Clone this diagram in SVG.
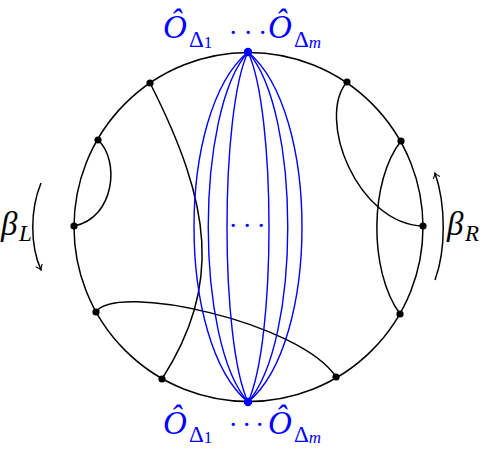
<svg xmlns="http://www.w3.org/2000/svg" width="488" height="454" viewBox="0 0 488 454">
<style>
.k{fill:none;stroke:#000;stroke-width:1.5}
.b{fill:none;stroke:#0000ff;stroke-width:1.4}
.dk{fill:#000}
.db{fill:#0000ff}
.t{font-family:"Liberation Serif","DejaVu Serif",serif;font-style:italic;fill:#000}
.tb{font-family:"Liberation Serif","DejaVu Serif",serif;fill:#0000ff}
</style>
<defs>
<marker id="ah" markerWidth="10" markerHeight="10" refX="0" refY="0" viewBox="-6 -5 8 10" orient="auto" markerUnits="userSpaceOnUse">
<path d="M-5,-3.5 Q-2,-0.8 0,0 Q-2,0.8 -5,3.5" fill="none" stroke="#000" stroke-width="1.1"/>
</marker>
</defs>
<g id="circle"><circle cx="248.5" cy="227" r="174.5" class="k"/></g>
<g id="connectors">
<path class="k" d="M150,83 C212,205 222,285 162,379"/>
<path class="k" d="M98,140 C120,160 115,218 74,226"/>
<path class="k" d="M347,82 C316,118 357,224 423,226"/>
<path class="k" d="M401,141 C370,180 368,270 400,314"/>
<path class="k" d="M96,312 C115,282 300,322 336,377"/>
<path class="b" d="M248,52 C176,112 176,342 248,402"/>
<path class="b" d="M248,52 C320,112 320,342 248,402"/>
<path class="b" d="M248,52 C195,112 195,342 248,402"/>
<path class="b" d="M248,52 C301,112 301,342 248,402"/>
<path class="b" d="M248,52 C220,112 220,342 248,402"/>
<path class="b" d="M248,52 C276,112 276,342 248,402"/>
<path class="k" d="M41,183 C30,210 30,245 41,270" marker-end="url(#ah)"/>
<path class="k" d="M435,280 C446,250 446,205 435,173" marker-end="url(#ah)"/>
</g>
<g id="points">
<circle cx="150" cy="83" r="3.6" class="dk"/>
<circle cx="98" cy="140" r="3.6" class="dk"/>
<circle cx="74" cy="226" r="3.6" class="dk"/>
<circle cx="96" cy="312" r="3.6" class="dk"/>
<circle cx="162" cy="379" r="3.6" class="dk"/>
<circle cx="336" cy="377" r="3.6" class="dk"/>
<circle cx="400" cy="314" r="3.6" class="dk"/>
<circle cx="423" cy="226" r="3.6" class="dk"/>
<circle cx="401" cy="141" r="3.6" class="dk"/>
<circle cx="347" cy="82" r="3.6" class="dk"/>
<circle cx="248" cy="52" r="4.2" class="db"/>
<circle cx="248" cy="402" r="4.2" class="db"/>
</g>
<g id="label-top" class="tb">
<text x="163" y="38" font-size="33" font-style="italic">Ô</text>
<text x="189" y="47" font-size="23">Δ<tspan font-size="17" dy="1">1</tspan></text>
<text x="228.5" y="42" font-size="28">·</text>
<text x="243.5" y="42" font-size="28">·</text>
<text x="258" y="42" font-size="28">·</text>
<text x="268" y="38" font-size="33" font-style="italic">Ô</text>
<text x="294" y="47" font-size="23">Δ<tspan font-size="17" font-style="italic" dy="1">m</tspan></text>
</g>
<g id="label-bottom" class="tb">
<text x="163" y="434" font-size="33" font-style="italic">Ô</text>
<text x="189" y="442" font-size="23">Δ<tspan font-size="17" dy="1">1</tspan></text>
<text x="228.5" y="434" font-size="28">·</text>
<text x="242" y="434" font-size="28">·</text>
<text x="255" y="434" font-size="28">·</text>
<text x="268" y="434" font-size="33" font-style="italic">Ô</text>
<text x="294" y="442" font-size="23">Δ<tspan font-size="17" font-style="italic" dy="1">m</tspan></text>
</g>
<g id="dots-center" class="tb">
<text x="228.5" y="235" font-size="28">·</text>
<text x="242.5" y="235" font-size="28">·</text>
<text x="256.5" y="235" font-size="28">·</text>
</g>
<g id="label-betaL" class="t">
<text x="1" y="235" font-size="33">β</text>
<text x="19" y="241" font-size="23">L</text>
</g>
<g id="label-betaR" class="t">
<text x="447" y="235" font-size="33">β</text>
<text x="465" y="241" font-size="23">R</text>
</g>
</svg>
